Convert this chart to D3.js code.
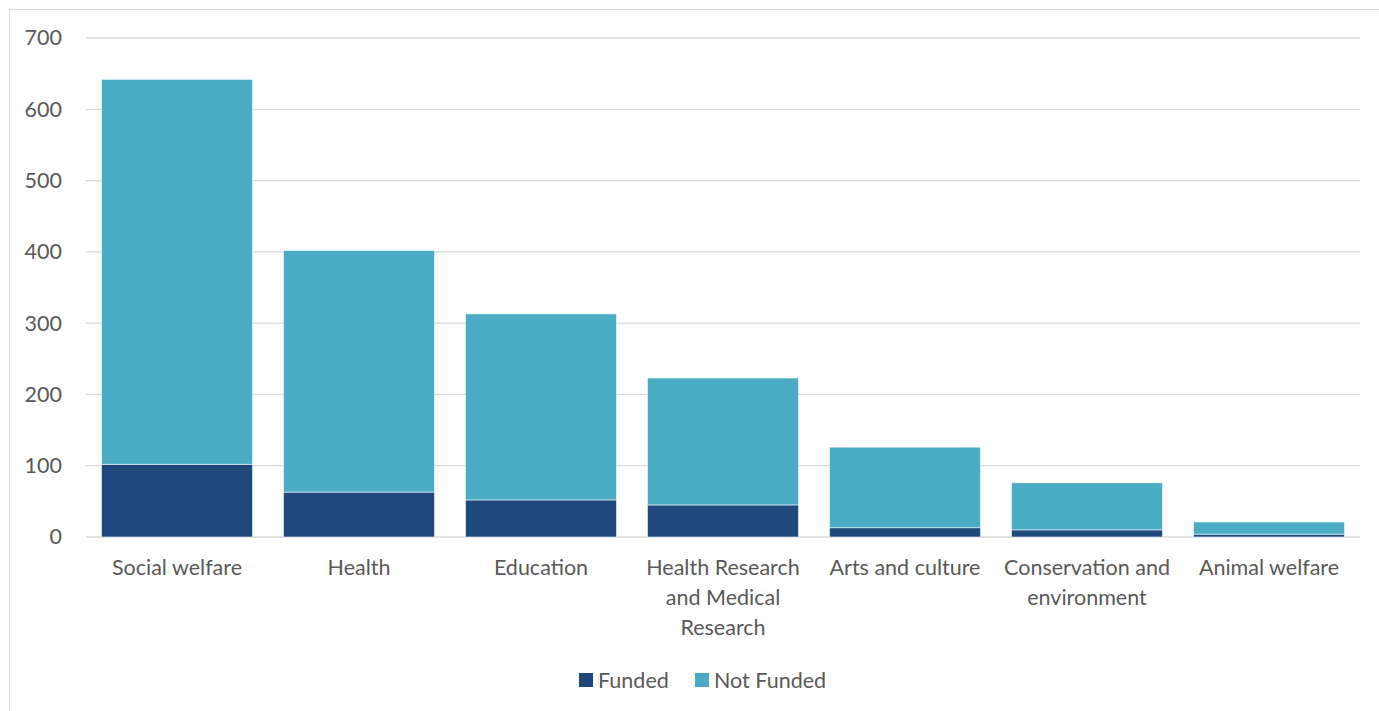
<!DOCTYPE html>
<html>
<head>
<meta charset="utf-8">
<script src="https://cdn.jsdelivr.net/npm/d3@7.9.0/dist/d3.min.js"></script>
<style>
  html, body { margin: 0; padding: 0; background: #fff; }
  svg { display: block; font-family: Lato, "Open Sans", sans-serif; }
</style>
</head>
<body>
<svg id="chart" width="1379" height="711"></svg>
<script>
var categories = ['Social welfare', 'Health', 'Education', 'Health Research and Medical Research',
    'Arts and culture', 'Conservation and environment', 'Animal welfare']
var labelLines = [['Social welfare'], ['Health'], ['Education'], ['Health Research', 'and Medical', 'Research'],
    ['Arts and culture'], ['Conservation and', 'environment'], ['Animal welfare']]
var funded = [102, 63, 52, 45, 13, 10, 4]
var notFunded = [540, 339, 261, 178, 113, 66, 17]
var seriesNames = ['Funded', 'Not Funded']
var yTicks = [0, 100, 200, 300, 400, 500, 600, 700]

;(function () {
    var COLORS = { 'Funded': '#1f497d', 'Not Funded': '#4bacc6' }
    var FS = 21.5

    var svg = d3.select('#chart')
    var W = 1379, H = 711
    var mLeft = 86, mRight = 1360, mTop = 38, mBottom = 537

    // outer frame like the Excel chart area
    svg.append('rect').attr('x', 9.5).attr('y', 9.5).attr('width', W + 10).attr('height', H + 10)
        .attr('fill', 'none').attr('stroke', '#d9d9d9').attr('stroke-width', 1)

    var x = d3.scaleBand().domain(categories).range([mLeft, mRight]).paddingInner(0.17).paddingOuter(0.085)
    var y = d3.scaleLinear().domain([0, 700]).range([mBottom, mTop])

    // gridlines
    svg.append('g').selectAll('line').data(yTicks).join('line')
        .attr('x1', mLeft).attr('x2', mRight)
        .attr('y1', function (d) { return y(d) }).attr('y2', function (d) { return y(d) })
        .attr('stroke', '#d9d9d9').attr('stroke-width', 1.3)

    // y axis labels
    var yAxis = d3.axisLeft(y).tickValues(yTicks).tickSize(0).tickPadding(24)
    var ga = svg.append('g').attr('transform', 'translate(' + mLeft + ',0)').call(yAxis)
    ga.select('.domain').remove()
    ga.selectAll('text').attr('fill', '#595959').attr('font-size', FS)
        .attr('font-family', 'Lato, "Open Sans", sans-serif')

    // stacked data
    var rows = categories.map(function (c, i) {
        return { cat: c, 'Funded': funded[i], 'Not Funded': notFunded[i] }
    })
    var stack = d3.stack().keys(seriesNames)(rows)

    svg.append('g').selectAll('g').data(stack).join('g')
        .attr('fill', function (s) { return COLORS[s.key] })
        .selectAll('rect').data(function (s) { return s }).join('rect')
        .attr('x', function (d) { return x(d.data.cat) })
        .attr('width', x.bandwidth())
        .attr('y', function (d) { return y(d[1]) })
        .attr('height', function (d) { return y(d[0]) - y(d[1]) })
        .attr('stroke', '#ffffff').attr('stroke-width', 0.8).attr('stroke-opacity', 0.7)

    // x labels
    var xl = svg.append('g').selectAll('text').data(categories).join('text')
        .attr('x', function (d) { return x(d) + x.bandwidth() / 2 })
        .attr('y', 575)
        .attr('text-anchor', 'middle')
        .attr('fill', '#595959').attr('font-size', FS)
    xl.each(function (d, i) {
        var t = d3.select(this)
        labelLines[i].forEach(function (line, j) {
            t.append('tspan').attr('x', x(d) + x.bandwidth() / 2).attr('dy', j === 0 ? 0 : 30).text(line)
        })
    })

    // legend
    var legend = svg.append('g')
    var lx = [579, 695]
    seriesNames.forEach(function (name, i) {
        legend.append('rect').attr('x', lx[i]).attr('y', 673).attr('width', 14).attr('height', 14)
            .attr('fill', COLORS[name])
        legend.append('text').attr('x', lx[i] + 19).attr('y', 688)
            .attr('fill', '#595959').attr('font-size', FS).text(name)
    })
})()
</script>
</body>
</html>
